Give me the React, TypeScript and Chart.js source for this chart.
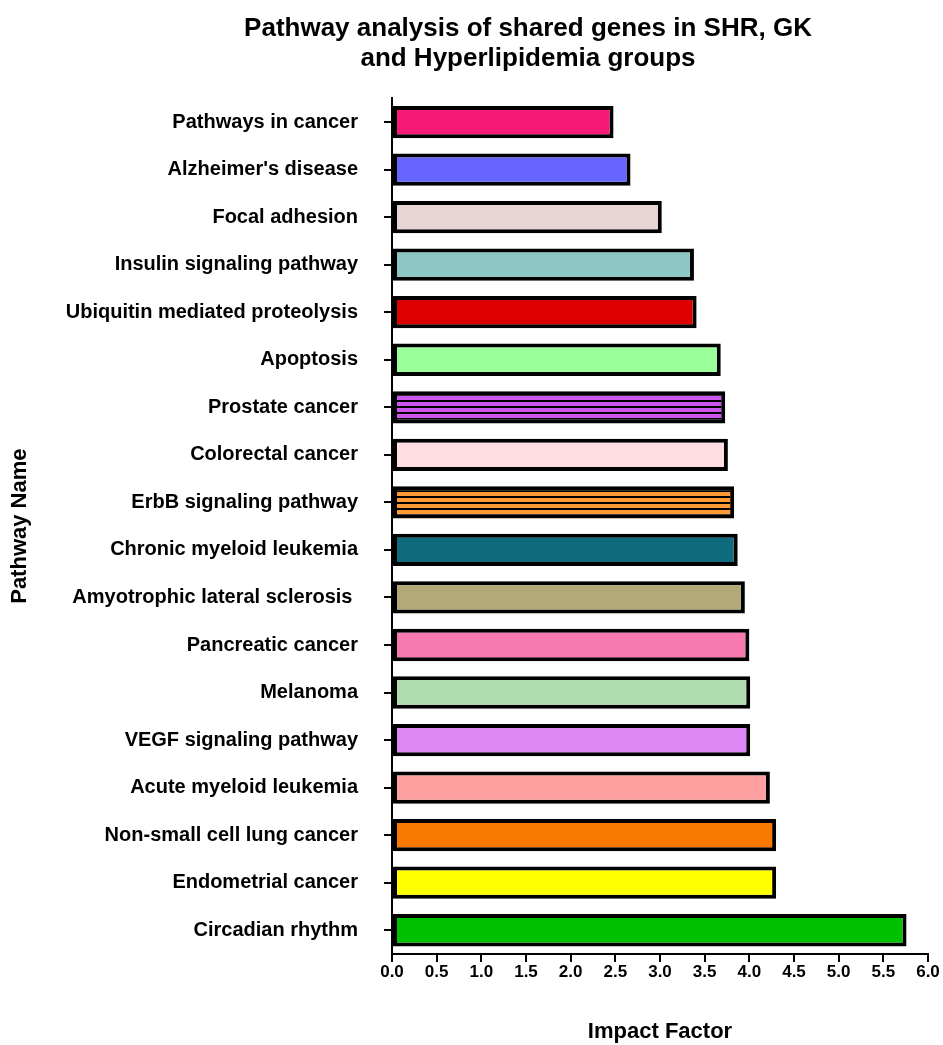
import React, { useEffect, useRef } from "react";
import { Chart, registerables } from "chart.js";

Chart.register(...registerables);

const pathways = [
  "Pathways in cancer",
  "Alzheimer's disease",
  "Focal adhesion",
  "Insulin signaling pathway",
  "Ubiquitin mediated proteolysis",
  "Apoptosis",
  "Prostate cancer",
  "Colorectal cancer",
  "ErbB signaling pathway",
  "Chronic myeloid leukemia",
  "Amyotrophic lateral sclerosis ",
  "Pancreatic cancer",
  "Melanoma",
  "VEGF signaling pathway",
  "Acute myeloid leukemia",
  "Non-small cell lung cancer",
  "Endometrial cancer",
  "Circadian rhythm",
];

const impactFactor = [
  2.48, 2.67, 3.02, 3.38, 3.41, 3.68, 3.73, 3.76, 3.83, 3.87, 3.95, 4.0, 4.01,
  4.01, 4.23, 4.3, 4.3, 5.76,
];

const barColors = [
  "#F81878",
  "#6666FF",
  "#E8D4D4",
  "#8CC6C6",
  "#DD0000",
  "#99FF99",
  "stripe:#CC55EE",
  "#FFDDE0",
  "stripe:#FF9933",
  "#0E6A7C",
  "#B2A878",
  "#F878B0",
  "#B0DDB0",
  "#DD88F4",
  "#FFA0A0",
  "#F87800",
  "#FFFF00",
  "#00C000",
];

const xTicks = [0, 0.5, 1, 1.5, 2, 2.5, 3, 3.5, 4, 4.5, 5, 5.5, 6];

const chartTitle = [
  "Pathway analysis of shared genes in SHR, GK",
  "and Hyperlipidemia groups",
];

function makeStripe(color: string, ctx: CanvasRenderingContext2D): CanvasPattern | string {
  const c = document.createElement("canvas");
  c.width = 8;
  c.height = 6;
  const g = c.getContext("2d");
  if (!g) return color;
  g.fillStyle = color;
  g.fillRect(0, 0, 8, 6);
  g.fillStyle = "#000000";
  g.fillRect(0, 4, 8, 2);
  const p = ctx.createPattern(c, "repeat");
  return p || color;
}

const shiftTitle = {
  id: "shiftTitle",
  afterLayout(chart: any) {
    const tb = chart.titleBlock;
    if (tb) {
      tb.left = 113;
      tb.right = 943;
      tb.width = 830;
    }
  },
};

export default function App() {
  const ref = useRef<HTMLCanvasElement>(null);

  useEffect(() => {
    const canvas = ref.current;
    if (!canvas) return;
    const ctx = canvas.getContext("2d");
    if (!ctx) return;
    const fills = barColors.map((c) =>
      c.startsWith("stripe:") ? makeStripe(c.slice(7), ctx) : c
    );
    const font = "'Liberation Sans', Arial, sans-serif";
    const chart = new Chart(ctx, {
      type: "bar",
      data: {
        labels: pathways,
        datasets: [
          {
            data: impactFactor,
            backgroundColor: fills as any,
            borderColor: "#000000",
            borderWidth: 4,
            borderSkipped: false,
            barPercentage: 0.68,
            categoryPercentage: 1,
          },
        ],
      },
      plugins: [shiftTitle],
      options: {
        indexAxis: "y",
        animation: false,
        responsive: false,
        maintainAspectRatio: false,
        layout: { padding: { left: 0, right: 15, top: 0, bottom: 0 } },
        plugins: {
          legend: { display: false },
          tooltip: { enabled: false },
          title: {
            display: true,
            text: chartTitle,
            color: "#000000",
            font: { family: font, size: 26, weight: "bold", lineHeight: 1.14 },
            padding: { top: 14, bottom: 25 },
          },
        },
        scales: {
          x: {
            type: "linear",
            min: 0,
            max: 6,
            afterBuildTicks: (scale: any) => {
              scale.ticks = xTicks.map((v) => ({ value: v }));
            },
            afterFit: (scale: any) => {
              scale.height = 91;
            },
            ticks: {
              color: "#000000",
              font: { family: font, size: 17, weight: "bold" },
              padding: 0,
              maxRotation: 0,
              autoSkip: false,
              callback: (v: any) => Number(v).toFixed(1),
            },
            grid: {
              display: true,
              drawOnChartArea: false,
              drawTicks: true,
              tickLength: 8,
              color: "#000000",
              lineWidth: 2,
            },
            border: { display: true, color: "#000000", width: 2 },
            title: {
              display: true,
              text: "Impact Factor",
              color: "#000000",
              font: { family: font, size: 22, weight: "bold" },
              padding: { top: 0, bottom: 0 },
            },
          },
          y: {
            afterFit: (scale: any) => {
              scale.width = 392;
            },
            ticks: {
              color: "#000000",
              font: { family: font, size: 20, weight: "bold" },
              padding: 26,
              autoSkip: false,
            },
            grid: {
              display: true,
              offset: false,
              drawOnChartArea: false,
              drawTicks: true,
              tickLength: 8,
              color: "#000000",
              lineWidth: 2,
            },
            border: { display: true, color: "#000000", width: 2 },
            title: {
              display: true,
              text: "Pathway Name",
              color: "#000000",
              font: { family: font, size: 22, weight: "bold" },
              padding: { top: 7, bottom: 0 },
            },
          },
        },
      },
    });
    return () => chart.destroy();
  }, []);

  return (
    <div
      style={{
        position: "fixed",
        left: 0,
        top: 0,
        width: 943,
        height: 1045,
        background: "#ffffff",
      }}
    >
      <canvas ref={ref} width={943} height={1045} style={{ width: 943, height: 1045 }} />
    </div>
  );
}
